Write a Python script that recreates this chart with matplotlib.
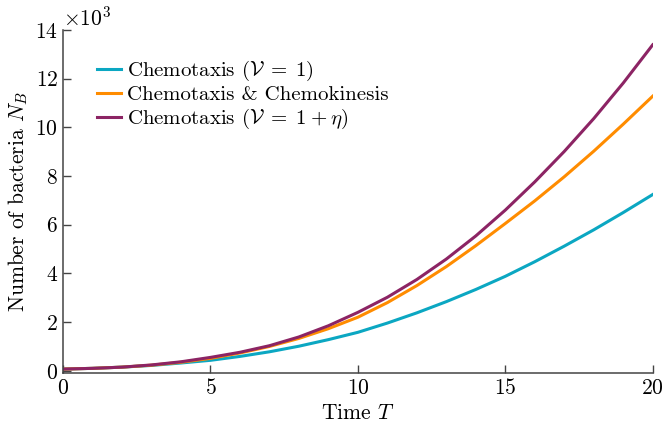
"""
Number of bacteria over time for the three chemotaxis models.
"""

import numpy as np
import matplotlib
matplotlib.use('Agg')
import matplotlib.pyplot as plt
from matplotlib.ticker import ScalarFormatter

# values (in thousands of bacteria)
T = [0, 1, 2, 3, 4, 5, 6, 7, 8, 9, 10, 11, 12, 13, 14, 15, 16, 17, 18, 19, 20]
nb_taxis = [0.07, 0.10, 0.15, 0.22, 0.32, 0.43, 0.59, 0.78, 1.01, 1.28, 1.58,
            1.96, 2.38, 2.84, 3.34, 3.88, 4.48, 5.12, 5.79, 6.50, 7.24]
nb_kinesis = [0.07, 0.10, 0.15, 0.23, 0.35, 0.51, 0.73, 1.00, 1.33, 1.73, 2.20,
              2.80, 3.50, 4.28, 5.14, 6.05, 6.98, 7.97, 9.02, 10.13, 11.28]
nb_eta = [0.07, 0.10, 0.15, 0.24, 0.37, 0.55, 0.76, 1.03, 1.39, 1.85, 2.40,
          3.02, 3.75, 4.59, 5.54, 6.60, 7.76, 9.01, 10.36, 11.82, 13.39]

labels = [r'Chemotaxis $(\mathcal{V}\;=\;1)$',
          r'Chemotaxis & Chemokinesis',
          r'Chemotaxis $(\mathcal{V}\;=\;1\:+\:\eta)$']
colors = ['#0ba7c2', '#ff8c00', '#8c2464']

plt.rcParams['font.family'] = 'serif'
plt.rcParams['font.serif'] = ['cmr10']
plt.rcParams['mathtext.fontset'] = 'cm'
plt.rcParams['axes.formatter.use_mathtext'] = True
plt.rcParams['axes.unicode_minus'] = False

fig = plt.figure(figsize=(6.64, 4.28), dpi=100)
ax = fig.add_axes([0.095, 0.128, 0.888, 0.802])

for y, lab, c in zip([nb_taxis, nb_kinesis, nb_eta], labels, colors):
    ax.plot(T, np.array(y) * 1000, color=c, lw=2.2, label=lab)

ax.set_xlim(0, 20)
ax.set_ylim(-100, 14000)
ax.set_xticks([0, 5, 10, 15, 20])
ax.set_yticks(np.arange(0, 14001, 2000))

fmt = ScalarFormatter(useMathText=True)
fmt.set_powerlimits((3, 3))
ax.yaxis.set_major_formatter(fmt)
ax.yaxis.get_offset_text().set_fontsize(15.5)

for s in ['top', 'right']:
    ax.spines[s].set_visible(False)
for s in ['left', 'bottom']:
    ax.spines[s].set_color('#444444')
    ax.spines[s].set_linewidth(1.1)
ax.tick_params(direction='in', length=6, width=1, color='#444444', labelsize=15.5)

ax.set_xlabel(r'Time $T$', fontsize=15.5)
ax.set_ylabel(r'Number of bacteria $N_B$', fontsize=15.5)

ax.legend(loc='upper left', bbox_to_anchor=(0.04, 0.945), frameon=False,
          fontsize=15, handlelength=1.15, handletextpad=0.3, labelspacing=0.12,
          borderpad=0)

fig.savefig('out.png', dpi=100)
